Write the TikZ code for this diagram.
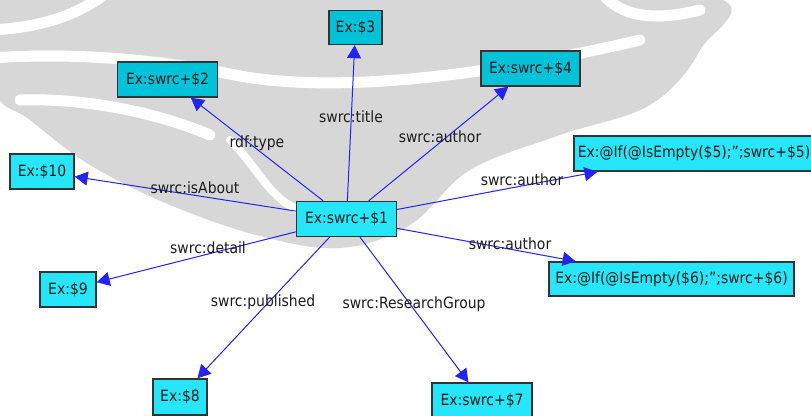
\documentclass[tikz,border=0pt]{standalone}
\usepackage{fontspec}
\setmainfont{DejaVu Sans}[FakeStretch=0.9]
\usetikzlibrary{arrows.meta}
\definecolor{wm}{HTML}{D7D7D7}
\definecolor{boxfill}{HTML}{27E6FB}
\definecolor{boxdark}{HTML}{00C3DA}
\definecolor{edgeblue}{HTML}{2424EE}
\definecolor{txt}{HTML}{1C1C1C}
\tikzset{
  gnode/.style={draw=black!80, line width=1.4pt, fill=boxfill, inner sep=0pt,
    font=\fontsize{15.5}{16}\selectfont, text=txt, rectangle, minimum height=35pt},
  gdark/.style={gnode, fill=boxdark},
  edge/.style={draw=edgeblue, line width=1pt, -{Triangle[length=13pt,width=14pt]}},
  elabel/.style={font=\fontsize{15.5}{16}\selectfont, text=txt, inner sep=0pt},
  wmband/.style={draw=white, line width=11pt, line cap=round}
}
\begin{document}
\begin{tikzpicture}[x=1pt,y=-1pt]
\useasboundingbox (0,0) rectangle (811,415);
\fill[white] (0,0) rectangle (811,415);
% watermark
\fill[wm] plot[smooth cycle, tension=0.6] coordinates {
  (-5,-5) (350,-8) (705,-5) (700,50) (650,105) (560,135) (470,170)
  (410,225) (340,248) (260,236) (170,205) (90,165) (30,120) (-5,90)};
\draw[wmband] (-10,58) .. controls (80,52) and (160,60) .. (240,76)
  .. controls (330,92) and (470,80) .. (640,40);
\draw[wmband] (-10,30) .. controls (40,28) and (80,15) .. (110,-10);
\draw[wmband] (20,100) .. controls (80,98) and (150,110) .. (210,135);
\draw[wmband] (600,-10) .. controls (620,20) and (660,20) .. (700,10);
\draw[wmband, line width=8pt] (230,140) .. controls (260,170) and (270,200) .. (300,210);
% nodes
\node[gnode, minimum width=100pt] (n1) at (346.5,219) {Ex:swrc+\$1};
\node[gdark, minimum width=100pt] (n2) at (167.5,79.5) {Ex:swrc+\$2};
\node[gdark, minimum width=53pt, minimum height=34pt] (n3) at (355.5,27.5) {Ex:\$3};
\node[gdark, minimum width=99pt] (n4) at (530.5,68.5) {Ex:swrc+\$4};
\node[gnode, minimum width=240pt] (n5) at (694,153.5) {Ex:@If(@IsEmpty(\$5);'';swrc+\$5)};
\node[gnode, minimum width=245pt, minimum height=34pt] (n6) at (671.5,279) {Ex:@If(@IsEmpty(\$6);'';swrc+\$6)};
\node[gnode, minimum width=100pt] (n7) at (482,400.5) {Ex:swrc+\$7};
\node[gnode, minimum width=54pt, minimum height=36pt] (n8) at (180,397) {Ex:\$8};
\node[gnode, minimum width=56pt] (n9) at (68,289.5) {Ex:\$9};
\node[gnode, minimum width=64pt] (n10) at (42,171.5) {Ex:\$10};
% edges
\foreach \t in {n2,n3,n4,n5,n6,n7,n8,n9,n10}{\draw[edge] (n1) -- (\t);}
% labels
\node[elabel] (l2) at (257,143) {rdf:type};
\node[elabel] (l3) at (351,117) {swrc:title};
\node[elabel] (l4) at (440,137) {swrc:author};
\node[elabel] (l5) at (522,180) {swrc:author};
\node[elabel] (l6) at (510,244) {swrc:author};
\node[elabel] (l10) at (195,188) {swrc:isAbout};
\node[elabel] (l9) at (208,248) {swrc:detail};
\node[elabel] (l8) at (263,302) {swrc:published};
\node[elabel] (l7) at (414,304) {swrc:ResearchGroup};
\end{tikzpicture}
\end{document}
